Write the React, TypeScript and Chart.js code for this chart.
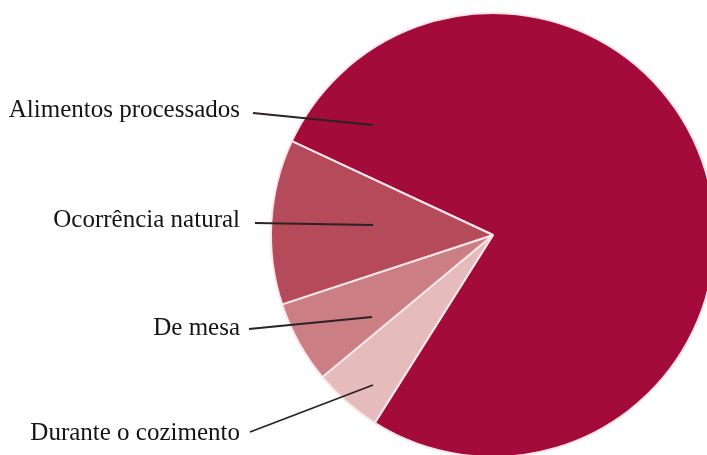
import React, { useEffect, useRef } from "react";
import { Chart, registerables } from "chart.js";

Chart.register(...registerables);

// Data (shares, %), ordered clockwise starting at the upper-left boundary
const categories = ["Alimentos processados", "Durante o cozimento", "De mesa", "Ocorrência natural"];
const values = [77, 5, 6, 12];
const colors = ["#A30C3A", "#E6BBBB", "#CC7E85", "#B54A5A"];

// Label layout (text anchor & leader line, relative to pie centre)
const labelTextBaseline = [-118, 205, 100, -8];
const lineStart = [[-240, -122], [-243, 197], [-244, 94], [-238, -12]];
const lineEnd = [[-120, -110], [-120, 150], [-121, 82], [-120, -10]];

const leaderPlugin = {
  id: "leaders",
  afterDraw(chart: any) {
    const meta = chart.getDatasetMeta(0);
    const arc = meta.data[0];
    if (!arc) return;
    const cx = arc.x, cy = arc.y;
    const ctx = chart.ctx;
    ctx.save();
    ctx.font = '25px "Liberation Serif", "Times New Roman", serif';
    ctx.fillStyle = "#141414";
    ctx.textAlign = "right";
    ctx.textBaseline = "alphabetic";
    ctx.strokeStyle = "#2a2226";
    ctx.lineWidth = 1.8;
    categories.forEach((label, i) => {
      ctx.fillText(label, cx - 253, cy + labelTextBaseline[i]);
      ctx.beginPath();
      ctx.moveTo(cx + lineStart[i][0], cy + lineStart[i][1]);
      ctx.lineTo(cx + lineEnd[i][0], cy + lineEnd[i][1]);
      ctx.stroke();
    });
    ctx.restore();
  },
};

export default function App() {
  const ref = useRef<HTMLCanvasElement>(null);
  useEffect(() => {
    if (!ref.current) return;
    const chart = new Chart(ref.current, {
      type: "pie",
      data: {
        labels: categories,
        datasets: [
          {
            data: values,
            backgroundColor: colors,
            borderColor: "#FBE6EA",
            borderWidth: 2,
            radius: 222,
          },
        ],
      },
      options: {
        responsive: false,
        animation: false,
        rotation: -65,
        layout: { padding: 0 },
        plugins: { legend: { display: false }, tooltip: { enabled: false } },
      },
      plugins: [leaderPlugin],
    });
    return () => chart.destroy();
  }, []);
  return (
    <div
      style={{
        position: "fixed",
        left: 0,
        top: 0,
        width: 707,
        height: 455,
        overflow: "hidden",
        background: "#fff",
      }}
    >
      <canvas ref={ref} width={986} height={470} style={{ width: 986, height: 470, display: "block" }} />
    </div>
  );
}
